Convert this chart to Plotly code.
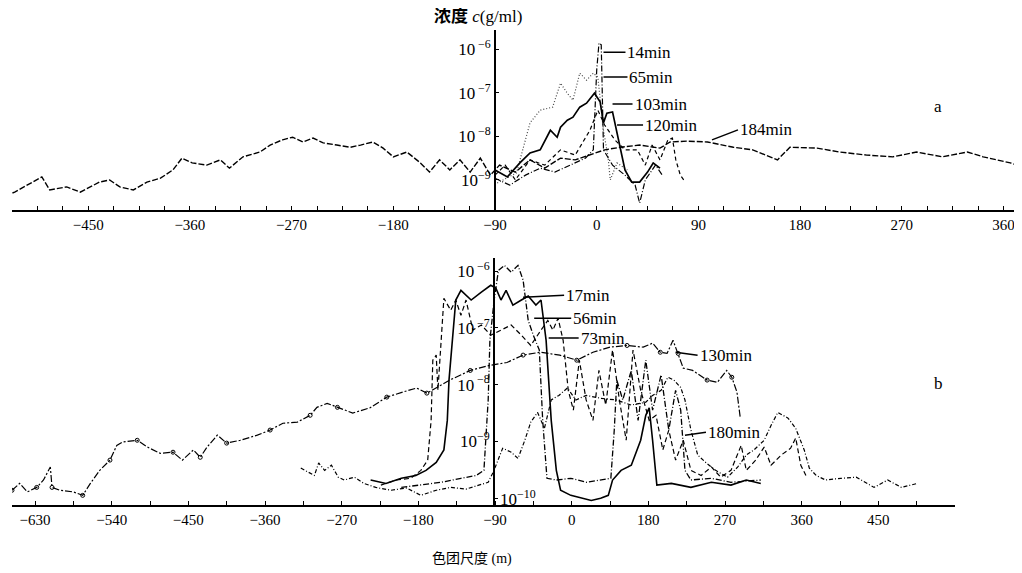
import numpy as np
import plotly.graph_objects as go

# ---------------- data (distance in m, log10 of concentration in g/ml) -------------
# panel a
a184_x = [-517,-515,-491,-484,-469,-457,-440,-431,-422,-410,-398,-386,-375,-367,-358,-345,-333,-325,-313,-298,
          -289,-278,-269,-260,-251,-242,-230,-218,-209,-198,-189,-180,-168,-156,-148,-139,-130,-121,-112,-103,
          -94,-86,-72,-59,-46,-32,-19,-6,7,21,38,56,65,80,98,121,138,160,171,195,215,239,262,283,306,328,342,366,372]
a184_lc = [-9.30,-9.28,-8.93,-9.23,-9.16,-9.28,-9.05,-9.00,-9.16,-9.23,-9.05,-8.96,-8.77,-8.50,-8.61,-8.66,-8.54,-8.73,-8.47,-8.36,
           -8.20,-8.08,-8.02,-8.13,-8.04,-8.15,-8.20,-8.25,-8.20,-8.13,-8.27,-8.47,-8.36,-8.61,-8.82,-8.54,-8.77,-8.54,-8.82,-8.50,
           -8.89,-8.66,-8.82,-8.54,-8.73,-8.50,-8.54,-8.43,-8.31,-8.25,-8.20,-8.27,-8.13,-8.11,-8.13,-8.25,-8.31,-8.54,-8.25,-8.27,
           -8.36,-8.43,-8.47,-8.36,-8.47,-8.36,-8.47,-8.61,-8.66]
a14_x = [-90,-77,-63,-50,-37,-24,-10,-3,0,2,4,6,14,25,34,38,43,52,58]
a14_lc = [-8.96,-9.12,-8.89,-8.73,-8.82,-8.66,-8.50,-8.31,-6.48,-5.86,-5.90,-8.31,-8.66,-8.89,-9.12,-9.53,-9.00,-8.66,-8.89]
a65_x = [-88,-71,-59,-50,-39,-32,-26,-21,-15,-9,-3,1,6,10,12,18,27]
a65_lc = [-9.07,-8.84,-7.69,-7.40,-7.33,-6.78,-7.01,-7.17,-6.55,-6.71,-6.55,-6.64,-7.86,-8.47,-9.00,-8.61,-8.77]
a103_x = [-90,-79,-68,-59,-50,-41,-35,-32,-26,-21,-15,-9,-2,3,6,9,14,19,25,31,38,45,50,56]
a103_lc = [-8.77,-8.93,-8.61,-8.38,-8.31,-7.86,-8.02,-7.79,-7.63,-7.56,-7.33,-7.24,-7.01,-7.21,-7.69,-7.47,-7.44,-8.08,
           -8.77,-9.05,-9.05,-8.82,-8.61,-8.73]
a120_x = [-90,-81,-72,-59,-46,-32,-19,-6,1,7,16,25,36,43,49,56,63,67,70,74,77]
a120_lc = [-8.89,-8.66,-9.00,-8.54,-8.66,-8.31,-8.43,-7.86,-7.40,-7.74,-8.08,-8.31,-8.31,-8.66,-8.20,-8.54,-8.08,-8.04,
           -8.54,-8.89,-9.00]

# panel b
b17_x = [-236,-218,-200,-183,-171,-159,-150,-146,-144,-139,-136,-130,-118,-106,-95,-89,-83,-77,-69,-59,
         -51,-42,-36,-30,-24,-18,-13,-1,11,23,34,43,48,58,70,81,87,91,95,100,117,140,164,187,205,222]
b17_lc = [-9.68,-9.74,-9.65,-9.60,-9.51,-9.37,-9.15,-8.63,-7.92,-7.04,-6.51,-6.34,-6.51,-6.37,-6.25,-6.30,-6.51,-6.34,
          -6.60,-6.51,-6.44,-6.60,-6.51,-7.22,-8.63,-9.51,-9.86,-9.95,-10.0,-10.04,-10.0,-9.95,-9.68,-9.51,-9.42,
          -8.98,-8.54,-8.41,-8.98,-9.77,-9.74,-9.81,-9.72,-9.77,-9.68,-9.74]
b56_x = [-224,-206,-189,-177,-169,-165,-163,-159,-157,-153,-150,-142,-136,-130,-124,-116,-106,-95,-83,-71,
         -59,-48,-36,-28,-22,-16,-10,-4,2,9,17,25,32,40,48,56,64,72,81,91,
         99,107,114,122,131,140,152,164,175,187,199,205,216,226,234,246,257,263,269,275]
b56_lc = [-9.77,-9.68,-9.65,-9.51,-9.33,-8.63,-7.57,-7.48,-8.10,-7.22,-6.48,-6.69,-6.51,-6.78,-6.51,-7.04,-6.95,-7.13,
          -7.04,-6.95,-7.13,-7.31,-7.04,-6.87,-7.04,-6.83,-7.22,-8.10,-8.45,-7.57,-8.27,-8.63,-7.75,-8.36,-7.39,-8.27,
          -8.98,-7.39,-8.10,-8.63,-8.54,-9.15,-8.80,-9.33,-8.98,-9.51,-9.60,-9.45,-9.63,-9.51,-9.07,-9.51,-9.33,-9.10,
          -9.42,-9.24,-9.12,-8.94,-9.42,-9.60]
b73_x = [-200,-177,-153,-130,-112,-103,-98,-96,-91,-86,-79,-71,-63,-57,-51,-45,-38,-34,-29,-18,
         -1,17,34,46,50,53,60,70,78,87,95,105,114,122,128,133,140,164,187,222]
b73_lc = [-9.81,-9.77,-9.72,-9.65,-9.60,-9.51,-8.27,-7.22,-6.51,-5.99,-5.90,-6.02,-5.90,-6.16,-6.87,-7.13,-7.39,-8.63,
          -9.65,-9.68,-9.65,-9.72,-9.68,-9.65,-8.80,-7.92,-8.27,-7.75,-8.63,-7.57,-8.45,-7.83,-8.80,-8.10,-8.45,-9.51,
          -9.68,-9.65,-9.72,-9.68]
b130_x = [-657,-648,-639,-628,-620,-612,-610,-601,-585,-574,-565,-554,-542,-534,-527,-510,-498,-483,-468,-457,
          -444,-436,-428,-416,-405,-389,-369,-354,-339,-322,-307,-299,-287,-275,-257,-237,-217,-198,-182,-170,
          -158,-143,-119,-96,-76,-57,-37,-14,6,25,45,65,84,95,104,112,119,125,131,142,159,171,182,188,194,198]
b130_lc = [-9.86,-9.74,-9.89,-9.81,-9.68,-9.45,-9.81,-9.86,-9.89,-9.95,-9.74,-9.51,-9.33,-9.07,-9.01,-8.98,-9.10,-9.21,
           -9.19,-9.33,-9.15,-9.28,-9.10,-8.89,-9.03,-8.98,-8.89,-8.80,-8.68,-8.66,-8.54,-8.40,-8.33,-8.40,-8.50,-8.41,
           -8.22,-8.13,-8.06,-8.15,-8.05,-7.92,-7.75,-7.66,-7.61,-7.48,-7.43,-7.48,-7.57,-7.43,-7.34,-7.31,-7.34,-7.27,
           -7.43,-7.45,-7.22,-7.45,-7.71,-7.75,-7.92,-7.96,-7.75,-7.87,-8.13,-8.59]
b180_x = [-318,-309,-302,-297,-290,-282,-274,-267,-255,-244,-230,-212,-194,-177,-159,-142,-124,-109,-98,-92,
          -86,-81,-71,-63,-55,-48,-40,-32,-24,-15,-5,5,17,34,52,70,87,95,105,113,
          120,128,133,140,148,158,169,183,195,205,214,226,234,242,254,263,273,279,287,298,316,334,355,371,387,406]
b180_lc = [-9.47,-9.54,-9.60,-9.38,-9.51,-9.42,-9.63,-9.68,-9.63,-9.74,-9.81,-9.86,-9.82,-9.95,-9.86,-9.81,-9.84,-9.77,
           -9.72,-9.54,-9.30,-9.12,-9.19,-9.30,-8.98,-8.66,-8.49,-8.77,-8.27,-8.19,-8.06,-8.27,-8.19,-8.24,-8.27,-8.36,
           -8.31,-8.19,-8.10,-7.87,-7.92,-8.05,-8.27,-8.80,-9.24,-9.38,-9.51,-9.63,-9.45,-9.24,-9.15,-8.98,-8.72,-8.49,
           -8.59,-8.77,-9.15,-9.47,-9.60,-9.68,-9.65,-9.63,-9.81,-9.68,-9.81,-9.74]

# axis ticks
a_tickvals = [-450, -360, -270, -180, -90, 0, 90, 180, 270, 360]
a_ticktext = ["−450", "−360", "−270", "−180", "−90", "0", "90", "180", "270", "360"]
b_tickvals = [-630, -540, -450, -360, -270, -180, -90, 0, 90, 180, 270, 360]
b_ticktext = ["−630", "−540", "−450", "−360", "−270", "−180", "−90", "0", "180", "270", "360", "450"]
a_ytickvals = [1e-6, 1e-7, 1e-8, 1e-9]
a_yticktext = ["10<sup> −6</sup>", "10<sup> −7</sup>", "10<sup> −8</sup>", "10<sup>−9</sup>"]
b_ytickvals = [1e-6, 1e-7, 1e-8, 1e-9, 1e-10]
b_yticktext = ["10<sup> −6</sup>", "10<sup> −7</sup>", "10<sup> −8</sup>", "10<sup>−9</sup>", ""]

SERIF = "Liberation Serif, Times New Roman, serif"
INK = "#000000"

# the page puts the figure 8 px in from the top-left corner
OX, OY = 8, 8
W, H = 1022 - OX, 573 - OY


def px(p):
    return (p - OX) / W


def py(p):
    return 1 - (p - OY) / H


def conc(lc):
    return 10 ** np.array(lc, dtype=float)


fig = go.Figure()


def add_line(x, lc, axes, dash, width=1.2, color=INK):
    fig.add_trace(go.Scatter(x=x, y=conc(lc), mode="lines", xaxis=axes[0], yaxis=axes[1],
                             line=dict(color=color, width=width, dash=dash),
                             showlegend=False, hoverinfo="skip"))


# panel a
add_line(a184_x, a184_lc, ("x", "y"), "6px,2px", 1.4)
add_line(a65_x, a65_lc, ("x", "y"), "1px,2px", 1.2, "#444444")
add_line(a120_x, a120_lc, ("x", "y"), "4px,3px", 1.2)
add_line(a103_x, a103_lc, ("x", "y"), "solid", 1.7)
add_line(a14_x, a14_lc, ("x", "y"), "6px,2px,1px,2px", 1.2)

# panel b
add_line(b130_x, b130_lc, ("x2", "y2"), "7px,2px,2px,2px", 1.2)
fig.add_trace(go.Scatter(x=b130_x[::3], y=conc(b130_lc[::3]), mode="markers", xaxis="x2", yaxis="y2",
                         marker=dict(symbol="circle-open", size=4, color=INK, line=dict(width=1)),
                         showlegend=False, hoverinfo="skip"))
add_line(b180_x, b180_lc, ("x2", "y2"), "4px,2px,1px,2px", 1.2)
add_line(b56_x, b56_lc, ("x2", "y2"), "5px,3px", 1.2)
add_line(b73_x, b73_lc, ("x2", "y2"), "6px,2px,1px,2px", 1.3)
add_line(b17_x, b17_lc, ("x2", "y2"), "solid", 1.6)

axis_common = dict(showgrid=False, zeroline=False, showline=True, linecolor=INK, linewidth=1.7,
                   tickcolor=INK)
xtick_font = dict(family=SERIF, size=15, color=INK)
ytick_font = dict(family=SERIF, size=17, color=INK)

fig.update_layout(
    width=W, height=H, autosize=False,
    margin=dict(l=0, r=0, t=0, b=0),
    paper_bgcolor="white", plot_bgcolor="white",
    xaxis=dict(domain=[px(12), px(1018)], range=[-517.4, 372.8], anchor="y",
               tickmode="array", tickvals=a_tickvals, ticktext=a_ticktext,
               ticks="inside", ticklen=4, tickfont=xtick_font,
               minor=dict(tickmode="linear", tick0=0, dtick=22.5, ticks="inside", ticklen=4, tickcolor=INK),
               **axis_common),
    yaxis=dict(type="log", domain=[py(210), py(30)], range=[-9.69, -5.56],
               anchor="free", position=px(495),
               tickmode="array", tickvals=a_ytickvals, ticktext=a_yticktext,
               ticks="inside", ticklen=3, tickfont=ytick_font, **axis_common),
    xaxis2=dict(domain=[px(12), px(955)], range=[-657, 450], anchor="y2",
                tickmode="array", tickvals=b_tickvals, ticktext=b_ticktext,
                ticks="inside", ticklen=4, tickfont=xtick_font,
                minor=dict(tickmode="linear", tick0=0, dtick=45, ticks="inside", ticklen=4, tickcolor=INK),
                **axis_common),
    yaxis2=dict(type="log", domain=[py(505), py(258)], range=[-10.12, -5.77],
                anchor="free", position=px(494),
                tickmode="array", tickvals=b_ytickvals, ticktext=b_yticktext,
                ticks="inside", ticklen=3, tickfont=ytick_font, **axis_common),
)

ann_font = dict(family=SERIF, size=17, color=INK)


def label(text, x, lc, ax, ay, xref, yref):
    fig.add_annotation(text=text, x=x, y=lc, xref=xref, yref=yref, ax=ax, ay=ay,
                       xanchor="left", yanchor="middle", showarrow=True, arrowhead=0,
                       arrowwidth=1.5, arrowcolor=INK, standoff=0, font=ann_font)


# curve labels, panel a
label("14min", 6, -6.07, 22, 0, "x", "y")
label("65min", 6, -6.64, 24, 0, "x", "y")
label("103min", 14, -7.26, 20, 0, "x", "y")
label("120min", 18, -7.74, 26, 0, "x", "y")
label("184min", 102, -8.08, 26, -10, "x", "y")
# curve labels, panel b
label("17min", -57, -6.46, 41, -2, "x2", "y2")
label("56min", -44, -6.83, 37, 0, "x2", "y2")
label("73min", -27, -7.18, 30, 0, "x2", "y2")
label("130min", 122, -7.43, 22, 3, "x2", "y2")
label("180min", 133, -8.89, 21, -3, "x2", "y2")

# 10^-10 label sits to the right of the b axis
fig.add_annotation(text="10<sup>−10</sup>", x=-90, y=-10, xref="x2", yref="y2", xanchor="left",
                   yanchor="middle", xshift=3, showarrow=False, font=ytick_font)

# panel letters
fig.add_annotation(text="a", x=px(944), y=py(95), xref="paper", yref="paper", showarrow=False,
                   font=dict(family=SERIF, size=17, color=INK))
fig.add_annotation(text="b", x=px(945), y=py(383), xref="paper", yref="paper", showarrow=False,
                   font=dict(family=SERIF, size=17, color=INK))

# axis titles
fig.add_annotation(text="<b>浓度</b> <i>c</i>(g/ml)", x=px(478), y=py(17), xref="paper", yref="paper",
                   yanchor="middle", showarrow=False,
                   font=dict(family="Liberation Serif, Noto Sans CJK SC", size=17, color=INK))
fig.add_annotation(text="色团尺度 (m)", x=px(472), y=py(558), xref="paper", yref="paper",
                   yanchor="middle", showarrow=False,
                   font=dict(family="Liberation Serif, Noto Sans CJK SC", size=14, color=INK))

fig.write_html("out.html")
